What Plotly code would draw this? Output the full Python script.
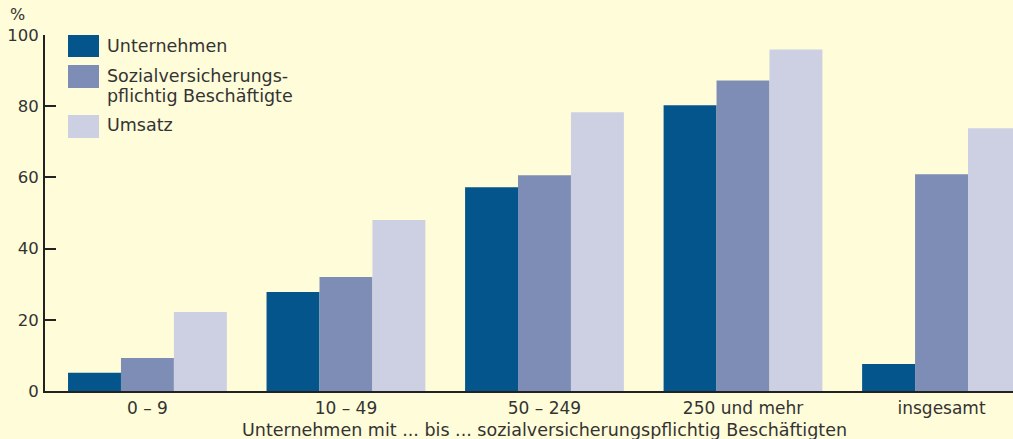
import plotly.graph_objects as go

categories = ["0 – 9", "10 – 49", "50 – 249", "250 und mehr", "insgesamt"]
series_names = ["Unternehmen", "Sozialversicherungs-pflichtig Beschäftigte", "Umsatz"]
legend_lines = [["Unternehmen"], ["Sozialversicherungs-", "pflichtig Beschäftigte"], ["Umsatz"]]
unternehmen = [5.1, 27.8, 57.2, 80.3, 7.6]
beschaeftigte = [9.3, 32.0, 60.6, 87.2, 60.9]
umsatz = [22.2, 48.0, 78.3, 95.9, 73.8]
y_ticks = [0, 20, 40, 60, 80, 100]
x_title = "Unternehmen mit ... bis ... sozialversicherungspflichtig Beschäftigten"
y_unit = "%"

colors = ["#04558B", "#7E8DB5", "#CCD0E2"]
bg = "#FFFCD9"
txt = "#333333"
FONT = "DejaVu Sans"

W, H = 1013, 439
L, R, T, B = 45, 0, 35, 48
pw = W - L - R
ph = H - T - B

def px_x(p):
    return (p - L) / pw

def px_y(p):
    return (H - B - p) / ph

fig = go.Figure()
for name, vals, c in zip(series_names, [unternehmen, beschaeftigte, umsatz], colors):
    fig.add_trace(go.Bar(x=list(range(len(categories))), y=vals, name=name,
                         marker=dict(color=c, line=dict(width=0)), showlegend=False))

shapes = []
annotations = []
# manual legend
boxes = [(35, 57), (65, 88), (115, 138)]
for (top, bot), c in zip(boxes, colors):
    shapes.append(dict(type="rect", xref="paper", yref="paper",
                       x0=px_x(68), x1=px_x(99), y0=px_y(bot), y1=px_y(top),
                       fillcolor=c, line=dict(width=0)))
for lines, centers in zip(legend_lines, [[46], [75.5, 96], [125]]):
    for line, cy in zip(lines, centers):
        annotations.append(dict(text=line, xref="paper", yref="paper",
                                x=px_x(105), y=px_y(cy), xanchor="left", yanchor="middle",
                                showarrow=False, font=dict(family=FONT, size=17.5, color=txt)))

annotations.append(dict(text=y_unit, xref="paper", yref="paper", x=px_x(8), y=px_y(14),
                        xanchor="left", yanchor="middle", showarrow=False,
                        font=dict(family=FONT, size=16, color=txt)))
annotations.append(dict(text=x_title, xref="x", yref="paper", x=2, y=px_y(430),
                        xanchor="center", yanchor="middle", showarrow=False,
                        font=dict(family=FONT, size=17.5, color=txt)))

fig.update_layout(
    width=W, height=H,
    margin=dict(l=L, r=R, t=T, b=B, pad=0),
    paper_bgcolor=bg, plot_bgcolor=bg,
    barmode="group", bargap=0.2, bargroupgap=0,
    font=dict(family=FONT, size=17, color=txt),
    shapes=shapes, annotations=annotations,
    xaxis=dict(range=[-0.516, 4.36], tickmode="array",
               tickvals=list(range(len(categories))), ticktext=categories,
               showgrid=False, zeroline=False, showline=True, linecolor="#222222", linewidth=2,
               ticks="", ticklabelstandoff=1,
               tickfont=dict(family=FONT, size=17, color=txt), fixedrange=True),
    yaxis=dict(range=[0, 100], tickmode="array", tickvals=y_ticks,
               showgrid=False, zeroline=False, showline=True, linecolor="#222222", linewidth=2,
               ticks="inside", ticklen=11, tickwidth=2, tickcolor="#222222",
               ticklabelstandoff=1,
               tickfont=dict(family=FONT, size=16.5, color=txt), fixedrange=True),
)

fig.write_html("out.html", config={"displayModeBar": False},
               post_script="document.body.style.margin='0';document.body.style.background='" + bg + "';")
